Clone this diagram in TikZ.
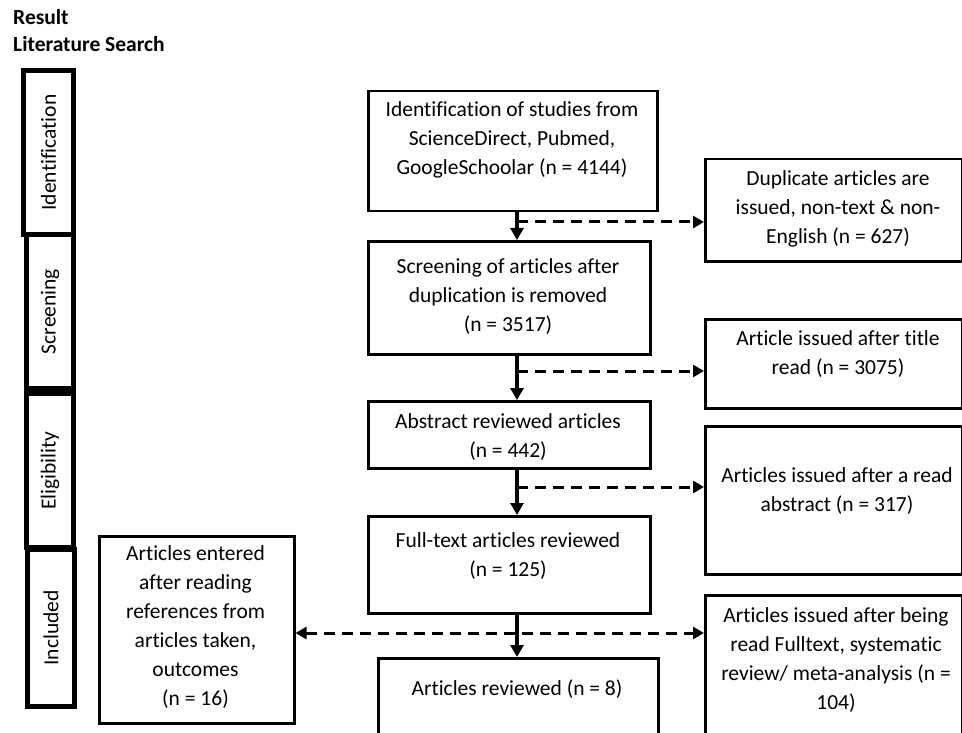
\documentclass[tikz,border=0pt]{standalone}
\usepackage{fontspec}
\setmainfont[Ligatures=NoCommon]{Carlito}
\usetikzlibrary{arrows.meta,calc}
\begin{document}
\begin{tikzpicture}[x=1pt,y=-1pt,
  box/.style={draw, line width=2.5pt, inner sep=0pt, anchor=north west},
  phase/.style={draw, line width=5pt, inner sep=0pt, anchor=north west},
  txt/.style={align=center, font=\fontsize{21.5}{29}\selectfont, inner sep=0pt},
  ttl/.style={align=left, font=\fontsize{21.5}{27}\selectfont\bfseries, inner sep=0pt, anchor=north west},
  flow/.style={line width=4pt, -{Triangle[length=12pt,width=13pt]}},
  side/.style={line width=3pt, dash pattern=on 11pt off 7pt, -{Triangle[length=11pt,width=12pt]}},
  bothside/.style={line width=3pt, dash pattern=on 11pt off 7pt, {Triangle[length=11pt,width=12pt]}-{Triangle[length=11pt,width=12pt]}},
]
\clip (0,0) rectangle (962,733);
\fill[white] (0,0) rectangle (962,733);

% title
\node[ttl] (title) at (13,9) {Result\\Literature Search};

% phase boxes
\node[phase, minimum width=50pt, minimum height=164pt] (p1) at (21,68) {};
\node[phase, minimum width=47pt, minimum height=154pt] (p2) at (24,232) {};
\node[phase, minimum width=47pt, minimum height=154pt] (p3) at (24,391) {};
\node[phase, minimum width=47pt, minimum height=157pt] (p4) at (25,547) {};
\node[txt, rotate=90] (p1t) at (p1.center) {Identification};
\node[txt, rotate=90] (p2t) at (p2.center) {Screening};
\node[txt, rotate=90] (p3t) at (p3.center) {Eligibility};
\node[txt, rotate=90] (p4t) at (p4.center) {Included};

% central boxes
\node[box, minimum width=289pt, minimum height=120pt] (b1) at (367,90) {};
\node[box, minimum width=282pt, minimum height=113pt] (b2) at (367,240) {};
\node[box, minimum width=282pt, minimum height=67pt] (b3) at (367,400) {};
\node[box, minimum width=282pt, minimum height=97pt] (b4) at (367,515) {};
\node[box, minimum width=280pt, minimum height=150pt] (b5) at (377,657) {};
\node[txt] (b1t) at (512,140) {Identification of studies from\\ScienceDirect, Pubmed,\\GoogleSchoolar (n = 4144)};
\node[txt] (b2t) at (508,297) {Screening of articles after\\duplication is removed\\(n = 3517)};
\node[txt] (b3t) at (508,437.5) {Abstract reviewed articles\\(n = 442)};
\node[txt] (b4t) at (508,556) {Full-text articles reviewed\\(n = 125)};
\node[txt] (b5t) at (517,689) {Articles reviewed (n = 8)};

% right boxes
\node[box, minimum width=257pt, minimum height=102pt] (r1) at (704,158) {};
\node[box, minimum width=257pt, minimum height=89pt] (r2) at (704,318) {};
\node[box, minimum width=257pt, minimum height=148pt] (r3) at (704,425) {};
\node[box, minimum width=257pt, minimum height=200pt] (r4) at (704,594) {};
\node[txt] (r1t) at (838,209) {Duplicate articles are\\issued, non-text \& non-\\English (n = 627)};
\node[txt] (r2t) at (838,354) {Article issued after title\\read (n = 3075)};
\node[txt] (r3t) at (837,491.5) {Articles issued after a read\\abstract (n = 317)};
\node[txt] (r4t) at (836,660) {Articles issued after being\\read Fulltext, systematic\\review/ meta-analysis (n =\\104)};

% left box
\node[box, minimum width=195pt, minimum height=187pt] (l1) at (98,535) {};
\node[txt] (l1t) at (195.5,627.5) {Articles entered\\after reading\\references from\\articles taken,\\outcomes\\(n = 16)};

% connectors
\coordinate (ax) at (517,0);
\coordinate (d1) at (517,222);
\coordinate (d2) at (517,371);
\coordinate (d3) at (517,487);
\coordinate (d4) at (517,633);

\draw[flow] (b1.south -| ax) -- (b2.north -| ax);
\draw[flow] (b2.south -| ax) -- (b3.north -| ax);
\draw[flow] (b3.south -| ax) -- (b4.north -| ax);
\draw[flow] (b4.south -| ax) -- (b5.north -| ax);

\draw[side] (d1) -- (d1 -| r1.west);
\draw[side] (d2) -- (d2 -| r2.west);
\draw[side] (d3) -- (d3 -| r3.west);
\draw[bothside] (d4 -| l1.east) -- (d4 -| r4.west);
\end{tikzpicture}
\end{document}
